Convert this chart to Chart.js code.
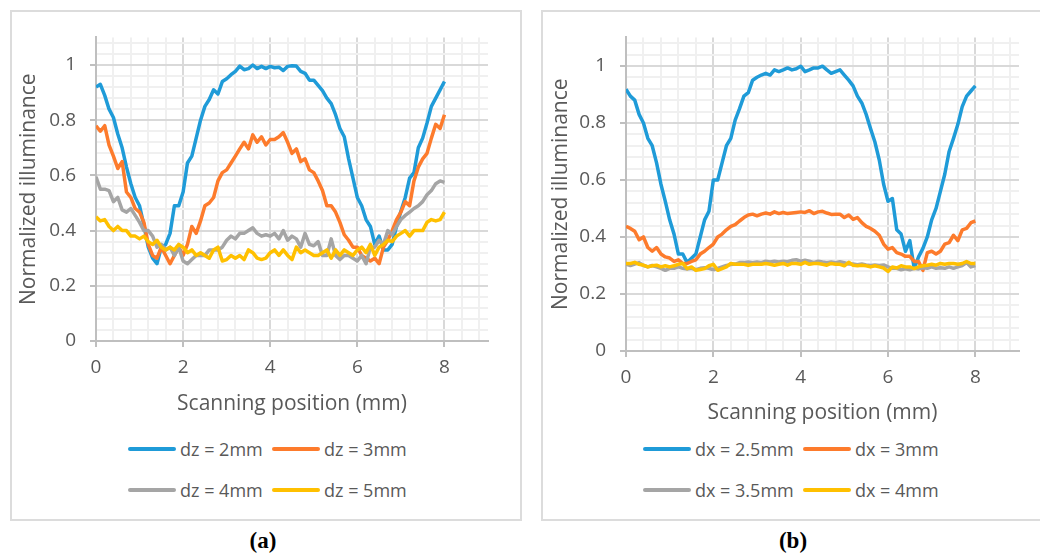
<!DOCTYPE html>
<html>
<head>
<meta charset="utf-8">
<script src="https://cdn.jsdelivr.net/npm/chart.js"></script>
<style>
  body { margin: 0; background: #fff; width: 1040px; height: 553px; overflow: hidden; position: relative; font-family: "Open Sans", sans-serif; }
  .panel { position: absolute; box-sizing: border-box; border: 2px solid #dcdcdc; }
  canvas { position: absolute; }
  .legend-item { position: absolute; display: flex; align-items: center; height: 24px; font-size: 18px; color: #595959; white-space: nowrap; }
  .legend-item .swatch { display: inline-block; width: 48px; height: 4px; margin-right: 4px; border-radius: 2px; }
  .caption { position: absolute; width: 100px; text-align: center; font: bold 23px "Liberation Serif", serif; line-height: 23px; color: #000; }
</style>
</head>
<body>
<div class="panel" style="left:10px; top:10px; width:512px; height:511px;"></div>
<div class="panel" style="left:541px; top:10px; width:520px; height:511px;"></div>
<canvas id="chartA" width="508" height="420" style="left:12px; top:12px; width:508px; height:420px;"></canvas>
<canvas id="chartB" width="497" height="420" style="left:543px; top:12px; width:497px; height:420px;"></canvas>
<div class="caption" style="left:213px; top:529px;">(a)</div>
<div class="caption" style="left:743px; top:529px;">(b)</div>

<script>
// scanning position (mm)
const positions = [
  0, 0.1, 0.2, 0.3, 0.4, 0.5, 0.6, 0.7, 0.8, 0.9,
  1, 1.1, 1.2, 1.3, 1.4, 1.5, 1.6, 1.7, 1.8, 1.9,
  2, 2.1, 2.2, 2.3, 2.4, 2.5, 2.6, 2.7, 2.8, 2.9,
  3, 3.1, 3.2, 3.3, 3.4, 3.5, 3.6, 3.7, 3.8, 3.9,
  4, 4.1, 4.2, 4.3, 4.4, 4.5, 4.6, 4.7, 4.8, 4.9,
  5, 5.1, 5.2, 5.3, 5.4, 5.5, 5.6, 5.7, 5.8, 5.9,
  6, 6.1, 6.2, 6.3, 6.4, 6.5, 6.6, 6.7, 6.8, 6.9,
  7, 7.1, 7.2, 7.3, 7.4, 7.5, 7.6, 7.7, 7.8, 7.9,
  8
];

// panel (a)
const dz2 = [
  0.92, 0.93, 0.89, 0.84, 0.81, 0.75, 0.70, 0.63, 0.57, 0.52,
  0.49, 0.42, 0.34, 0.30, 0.28, 0.34, 0.35, 0.39, 0.49, 0.49,
  0.54, 0.645, 0.67, 0.735, 0.80, 0.85, 0.875, 0.91, 0.895, 0.94,
  0.95, 0.965, 0.977, 0.996, 0.983, 0.987, 1.0, 0.987, 0.995, 0.987,
  0.995, 0.99, 0.992, 0.98, 0.995, 0.997, 0.996, 0.977, 0.97, 0.945,
  0.945, 0.926, 0.907, 0.88, 0.86, 0.82, 0.77, 0.74, 0.66, 0.59,
  0.52, 0.49, 0.44, 0.415, 0.35, 0.38, 0.33, 0.33, 0.35, 0.415,
  0.47, 0.52, 0.59, 0.61, 0.70, 0.735, 0.79, 0.85, 0.88, 0.91,
  0.94
];
const dz3 = [
  0.78, 0.76, 0.78, 0.71, 0.67, 0.625, 0.65, 0.54, 0.52, 0.48,
  0.467, 0.43, 0.35, 0.31, 0.30, 0.34, 0.31, 0.28, 0.31, 0.34,
  0.31, 0.35, 0.415, 0.39, 0.435, 0.49, 0.50, 0.52, 0.58, 0.61,
  0.62, 0.645, 0.67, 0.696, 0.72, 0.696, 0.747, 0.72, 0.74, 0.71,
  0.73, 0.73, 0.74, 0.755, 0.72, 0.68, 0.696, 0.65, 0.66, 0.62,
  0.61, 0.58, 0.545, 0.49, 0.49, 0.467, 0.43, 0.385, 0.365, 0.34,
  0.34, 0.31, 0.30, 0.29, 0.30, 0.28, 0.34, 0.365, 0.40, 0.44,
  0.467, 0.505, 0.49, 0.58, 0.63, 0.66, 0.68, 0.735, 0.785, 0.77,
  0.82
];
const dz4 = [
  0.595, 0.55, 0.55, 0.545, 0.505, 0.52, 0.475, 0.467, 0.48, 0.455,
  0.43, 0.40, 0.40, 0.38, 0.34, 0.35, 0.33, 0.34, 0.31, 0.34,
  0.29, 0.28, 0.295, 0.31, 0.31, 0.31, 0.33, 0.33, 0.33, 0.34,
  0.365, 0.38, 0.37, 0.39, 0.39, 0.40, 0.41, 0.39, 0.38, 0.385,
  0.38, 0.39, 0.37, 0.40, 0.365, 0.38, 0.37, 0.34, 0.39, 0.35,
  0.345, 0.36, 0.31, 0.31, 0.37, 0.31, 0.295, 0.31, 0.31, 0.30,
  0.29, 0.31, 0.28, 0.34, 0.34, 0.365, 0.35, 0.40, 0.385, 0.415,
  0.44, 0.455, 0.467, 0.48, 0.49, 0.505, 0.53, 0.545, 0.57, 0.58,
  0.575
];
const dz5 = [
  0.45, 0.435, 0.44, 0.415, 0.40, 0.415, 0.40, 0.40, 0.38, 0.38,
  0.37, 0.38, 0.36, 0.35, 0.365, 0.34, 0.33, 0.34, 0.33, 0.35,
  0.34, 0.32, 0.33, 0.31, 0.32, 0.31, 0.30, 0.33, 0.34, 0.29,
  0.295, 0.31, 0.30, 0.31, 0.295, 0.33, 0.32, 0.30, 0.295, 0.30,
  0.32, 0.33, 0.31, 0.33, 0.31, 0.295, 0.34, 0.32, 0.33, 0.32,
  0.31, 0.31, 0.32, 0.33, 0.30, 0.33, 0.31, 0.33, 0.32, 0.31,
  0.33, 0.34, 0.32, 0.35, 0.31, 0.34, 0.35, 0.365, 0.36, 0.38,
  0.39, 0.40, 0.38, 0.40, 0.40, 0.40, 0.43, 0.44, 0.435, 0.44,
  0.467
];

// panel (b)
const dx25 = [
  0.918, 0.894, 0.88, 0.83, 0.80, 0.746, 0.72, 0.66, 0.585, 0.525,
  0.46, 0.41, 0.34, 0.34, 0.31, 0.325, 0.34, 0.40, 0.46, 0.49,
  0.60, 0.60, 0.66, 0.72, 0.746, 0.81, 0.85, 0.894, 0.906, 0.95,
  0.96, 0.968, 0.974, 0.968, 0.986, 0.98, 0.986, 0.993, 0.986, 0.99,
  0.999, 0.98, 0.986, 0.993, 0.993, 0.999, 0.986, 0.974, 0.98, 0.986,
  0.968, 0.95, 0.93, 0.894, 0.87, 0.83, 0.78, 0.733, 0.67, 0.585,
  0.525, 0.535, 0.425, 0.41, 0.35, 0.387, 0.29, 0.33, 0.36, 0.40,
  0.46, 0.50, 0.56, 0.62, 0.70, 0.746, 0.795, 0.857, 0.894, 0.912,
  0.93
];
const dx3 = [
  0.437, 0.43, 0.42, 0.39, 0.40, 0.363, 0.35, 0.363, 0.34, 0.33,
  0.326, 0.314, 0.32, 0.307, 0.307, 0.314, 0.32, 0.34, 0.35, 0.363,
  0.375, 0.40, 0.41, 0.425, 0.437, 0.443, 0.456, 0.468, 0.477, 0.48,
  0.474, 0.48, 0.484, 0.48, 0.488, 0.482, 0.486, 0.482, 0.484, 0.486,
  0.488, 0.486, 0.492, 0.482, 0.488, 0.49, 0.484, 0.479, 0.48, 0.48,
  0.468, 0.477, 0.462, 0.468, 0.45, 0.437, 0.43, 0.42, 0.406, 0.375,
  0.357, 0.363, 0.345, 0.34, 0.332, 0.332, 0.314, 0.314, 0.283, 0.345,
  0.35, 0.34, 0.35, 0.375, 0.38, 0.406, 0.387, 0.425, 0.43, 0.45,
  0.456
];
const dx35 = [
  0.305, 0.30, 0.305, 0.31, 0.30, 0.295, 0.30, 0.295, 0.29, 0.283,
  0.29, 0.29, 0.295, 0.29, 0.288, 0.29, 0.285, 0.29, 0.292, 0.29,
  0.285, 0.29, 0.295, 0.30, 0.303, 0.305, 0.31, 0.31, 0.312, 0.31,
  0.312, 0.31, 0.315, 0.312, 0.315, 0.312, 0.315, 0.313, 0.318, 0.32,
  0.315, 0.318, 0.315, 0.31, 0.315, 0.312, 0.31, 0.312, 0.31, 0.313,
  0.31, 0.305, 0.305, 0.303, 0.305, 0.302, 0.30, 0.302, 0.30, 0.302,
  0.295, 0.29, 0.29, 0.285, 0.288, 0.285, 0.29, 0.288, 0.292, 0.29,
  0.295, 0.29, 0.292, 0.29, 0.295, 0.29, 0.295, 0.30, 0.31, 0.295,
  0.30
];
const dx4 = [
  0.307, 0.307, 0.311, 0.304, 0.301, 0.295, 0.299, 0.301, 0.295, 0.299,
  0.295, 0.299, 0.304, 0.307, 0.289, 0.295, 0.283, 0.286, 0.289, 0.299,
  0.304, 0.283, 0.289, 0.295, 0.307, 0.304, 0.304, 0.304, 0.301, 0.304,
  0.304, 0.304, 0.307, 0.304, 0.301, 0.304, 0.307, 0.301, 0.307, 0.307,
  0.304, 0.311, 0.304, 0.307, 0.307, 0.304, 0.301, 0.307, 0.304, 0.304,
  0.299, 0.311, 0.301, 0.299, 0.301, 0.299, 0.295, 0.299, 0.295, 0.291,
  0.279, 0.295, 0.291, 0.299, 0.295, 0.295, 0.289, 0.295, 0.299, 0.301,
  0.304, 0.301, 0.307, 0.304, 0.307, 0.307, 0.304, 0.307, 0.314, 0.307,
  0.307
];

const labelsA = ["dz = 2mm", "dz = 3mm", "dz = 4mm", "dz = 5mm"];
const labelsB = ["dx = 2.5mm", "dx = 3mm", "dx = 3.5mm", "dx = 4mm"];
const seriesColors = ["#1f9bd8", "#fd7b2c", "#a5a5a5", "#ffc000"];

// axis ticks
const xTickLabels = [0, 2, 4, 6, 8];
const yTickLabels = [0, 0.2, 0.4, 0.6, 0.8, 1];
const xMax = 9, yMax = 1.1;
const xMinorStep = 0.4, yMinorStep = 0.04;

const AXIS = "#bfbfbf", MAJOR = "#d9d9d9", MINOR = "#f0f0f0", TEXT = "#595959";
const FONT = "'Open Sans', sans-serif";

const near = (v, list) => list.some(m => Math.abs(m - v) < 1e-6);

function gridValues(max, step) {
    const out = [];
    for (let i = 0; i * step < max - 1e-9; i++) out.push(+(i * step).toFixed(2));
    return out;
}

function makeChart(id, series, labels, pad, xHeight, yTitlePad) {
    const datasets = series.map((vals, i) => ({
        label: labels[i],
        data: positions.map((x, j) => ({ x: x, y: vals[j] })),
        borderColor: seriesColors[i],
        backgroundColor: seriesColors[i],
        borderWidth: 3.5,
        pointRadius: 0,
        fill: false,
        tension: 0,
        borderJoinStyle: "round",
        order: series.length - 1 - i   // later series on top, like the original
    }));

    return new Chart(document.getElementById(id), {
        type: "line",
        data: { datasets: datasets },
        options: {
            responsive: false,
            animation: false,
            layout: { padding: pad },
            plugins: { legend: { display: false }, tooltip: { enabled: false } },
            scales: {
                x: {
                    type: "linear",
                    min: 0,
                    max: xMax,
                    afterBuildTicks: s => { s.ticks = gridValues(xMax, xMinorStep).map(v => ({ value: v })); },
                    afterFit: s => { s.height = xHeight; },
                    grid: {
                        color: c => near(c.tick.value, xTickLabels) ? MAJOR : MINOR,
                        lineWidth: 2,
                        tickLength: 6,
                        tickWidth: 2,
                        tickColor: c => near(c.tick.value, xTickLabels) ? AXIS : "rgba(0,0,0,0)"
                    },
                    border: { color: AXIS, width: 2 },
                    ticks: {
                        autoSkip: false,
                        maxRotation: 0,
                        padding: 9,
                        color: TEXT,
                        font: { family: FONT, size: 19 },
                        callback: v => near(v, xTickLabels) ? String(Math.round(v)) : ""
                    },
                    title: {
                        display: true,
                        text: "Scanning position (mm)",
                        color: TEXT,
                        font: { family: FONT, size: 21 },
                        padding: { top: 0, bottom: 0 }
                    }
                },
                y: {
                    min: 0,
                    max: yMax,
                    afterBuildTicks: s => { s.ticks = gridValues(yMax, yMinorStep).map(v => ({ value: v })); },
                    afterFit: s => { s.width = pad.yWidth; },
                    grid: {
                        color: c => near(c.tick.value, yTickLabels) ? MAJOR : MINOR,
                        lineWidth: 2,
                        tickLength: 6,
                        tickWidth: 2,
                        tickColor: c => near(c.tick.value, yTickLabels) ? AXIS : "rgba(0,0,0,0)"
                    },
                    border: { color: AXIS, width: 2 },
                    ticks: {
                        autoSkip: false,
                        padding: 14,
                        color: TEXT,
                        font: { family: FONT, size: 19 },
                        callback: v => near(v, yTickLabels) ? String(Math.round(v * 10) / 10) : ""
                    },
                    title: {
                        display: true,
                        text: "Normalized illuminance",
                        color: TEXT,
                        font: { family: FONT, size: 21 },
                        padding: { top: yTitlePad, bottom: 0 }
                    }
                }
            }
        }
    });
}

function makeLegend(labels, cols, rows) {
    labels.forEach((text, i) => {
        const item = document.createElement("div");
        item.className = "legend-item";
        item.style.left = cols[i % 2] + "px";
        item.style.top = (rows[Math.floor(i / 2)] - 12) + "px";
        const sw = document.createElement("span");
        sw.className = "swatch";
        sw.style.background = seriesColors[i];
        item.appendChild(sw);
        item.appendChild(document.createTextNode(text));
        document.body.appendChild(item);
    });
}

const padA = { left: 0, top: 24, right: 32, bottom: 15 };
padA.yWidth = 84;
const padB = { left: 0, top: 24, right: 21, bottom: 6 };
padB.yWidth = 83;

makeChart("chartA", [dz2, dz3, dz4, dz5], labelsA, padA, 76, 4);
makeChart("chartB", [dx25, dx3, dx35, dx4], labelsB, padB, 75, 5);

makeLegend(labelsA, [128, 272], [449, 490]);
makeLegend(labelsB, [643, 803], [449, 490]);
</script>
</body>
</html>
